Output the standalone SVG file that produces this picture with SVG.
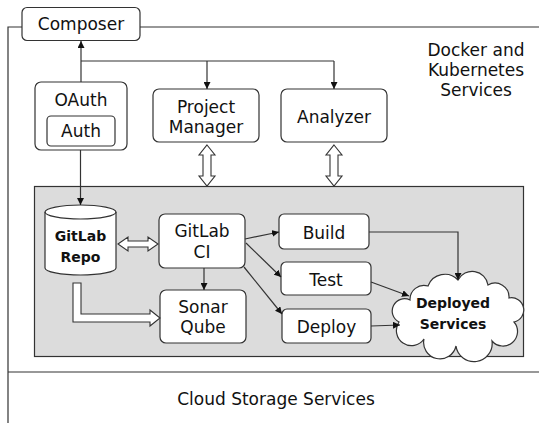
<svg xmlns="http://www.w3.org/2000/svg" width="539" height="423" viewBox="0 0 539 423">
<defs>
<marker id="ah" viewBox="0 0 10 10" refX="10" refY="5" markerWidth="7" markerHeight="7" markerUnits="userSpaceOnUse" orient="auto">
<path d="M0,0 L10,5 L0,10 Z" fill="#111"/>
</marker>
<style>
.box{fill:#fff;stroke:#333;stroke-width:1.2}
.t{font-family:"DejaVu Sans",Verdana,sans-serif;font-size:17px;fill:#111;text-anchor:middle}
.b{font-family:"DejaVu Sans",Verdana,sans-serif;font-size:14px;font-weight:bold;fill:#111;text-anchor:middle}
.ln{fill:none;stroke:#333;stroke-width:1.2}
.ar{fill:none;stroke:#333;stroke-width:1.2;marker-end:url(#ah)}
.hol{fill:#fff;stroke:#333;stroke-width:1.1}
</style>
</defs>
<g id="frame">
<path class="ln" d="M22,27 H8 V423 M140,27 H539 M8,372 H539"/>
<text class="t" x="476" y="56">Docker and</text>
<text class="t" x="476" y="76">Kubernetes</text>
<text class="t" x="476" y="96">Services</text>
<text class="t" x="276" y="405">Cloud Storage Services</text>
</g>
<g id="panel">
<rect x="34.5" y="186.5" width="489" height="170" fill="#dcdcdc" stroke="#333" stroke-width="1.2"/>
</g>
<g id="composer">
<rect class="box" x="22" y="7.5" width="118" height="33" rx="5"/>
<text class="t" x="81" y="30">Composer</text>
</g>
<g id="oauth">
<rect class="box" x="35" y="82" width="92" height="68" rx="6"/>
<text class="t" x="81" y="106">OAuth</text>
<rect class="box" x="47" y="116" width="68" height="30" rx="4"/>
<text class="t" x="81" y="137">Auth</text>
</g>
<g id="project-manager">
<rect class="box" x="153" y="89" width="106" height="53" rx="6"/>
<text class="t" x="206" y="113">Project</text>
<text class="t" x="206" y="133">Manager</text>
</g>
<g id="analyzer">
<rect class="box" x="281" y="89" width="106" height="53" rx="6"/>
<text class="t" x="334" y="123">Analyzer</text>
</g>
<g id="gitlab-repo">
<path class="box" d="M45,212 A35.5,7 0 0 1 116,212 V268 A35.5,7 0 0 1 45,268 Z"/>
<path class="ln" d="M45,212 A35.5,7 0 0 0 116,212"/>
<text class="b" x="80.5" y="241">GitLab</text>
<text class="b" x="80.5" y="262">Repo</text>
</g>
<g id="gitlab-ci">
<rect class="box" x="159" y="214" width="86" height="54" rx="6"/>
<text class="t" x="202" y="237">GitLab</text>
<text class="t" x="202" y="258">CI</text>
</g>
<g id="sonarqube">
<rect class="box" x="160" y="290" width="86" height="53" rx="6"/>
<text class="t" x="203" y="313">Sonar</text>
<text class="t" x="203" y="333">Qube</text>
</g>
<g id="build">
<rect class="box" x="279" y="214" width="90" height="35" rx="5"/>
<text class="t" x="324" y="239">Build</text>
</g>
<g id="test">
<rect class="box" x="281" y="262" width="90" height="33" rx="5"/>
<text class="t" x="326" y="286">Test</text>
</g>
<g id="deploy">
<rect class="box" x="282" y="309" width="89" height="34" rx="5"/>
<text class="t" x="326.5" y="333">Deploy</text>
</g>
<g id="deployed-services">
<path class="box" d="M410,300 A14,14 0 0 1 428,286 A18,18 0 0 1 458,280 A16,16 0 0 1 488,285 A14,14 0 0 1 509,298 A12,12 0 0 1 514,322 A14,14 0 0 1 492,341 A18,18 0 0 1 456,346 A16,16 0 0 1 424,339 A12,12 0 0 1 399,322 A12,12 0 0 1 410,300 Z"/>
<text class="b" x="453" y="308">Deployed</text>
<text class="b" x="453" y="329">Services</text>
</g>
<g id="connectors">
<path class="ar" d="M81,82 V41"/>
<path class="ln" d="M81,61 H334"/>
<path class="ar" d="M207,61 V89"/>
<path class="ar" d="M334,61 V89"/>
<path class="ar" d="M80.5,150 V205"/>
<path class="ar" d="M204,268 V290"/>
<path class="ar" d="M245,239 L279,232"/>
<path class="ar" d="M246,243 L281,277"/>
<path class="ar" d="M244,267 L282,314"/>
<path class="ar" d="M369,232 H458 V280"/>
<path class="ar" d="M371,282 L409,296"/>
<path class="ar" d="M371,326 L400,325"/>
<polygon class="hol" points="207,145 215,155 211,155 211,176 215,176 207,186 199,176 203,176 203,155 199,155"/>
<polygon class="hol" points="334,145 342,155 338,155 338,176 342,176 334,186 326,176 330,176 330,155 326,155"/>
<polygon class="hol" points="118,244 128,237 128,241 148,241 148,237 158,244 148,251 148,247 128,247 128,251"/>
<polygon class="hol" points="73,283 81,283 81,314 150,314 150,310 160,318 150,326 150,322 73,322"/>
</g>
</svg>
